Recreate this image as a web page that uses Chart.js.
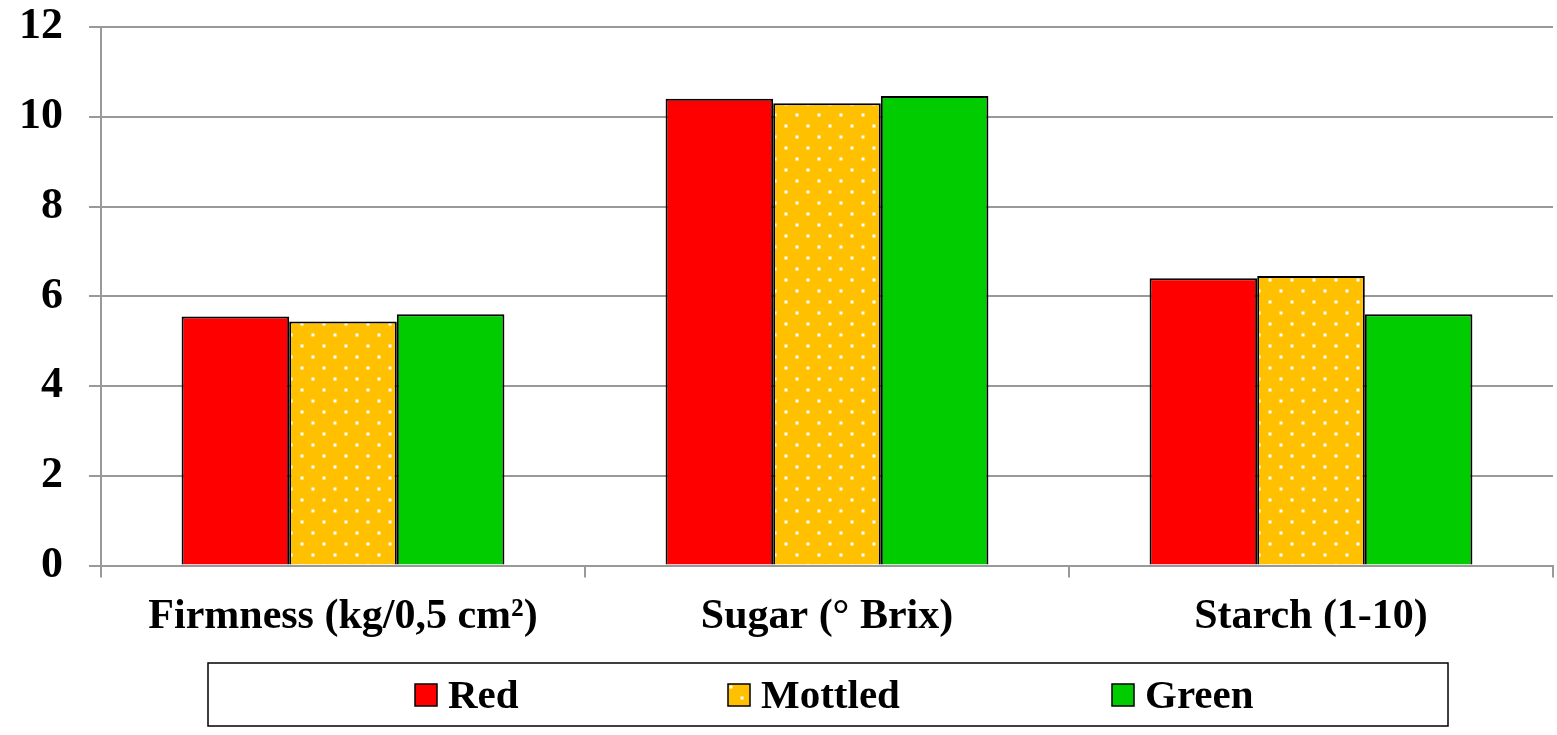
<!DOCTYPE html>
<html>
<head>
<meta charset="utf-8">
<script src="https://cdn.jsdelivr.net/npm/chart.js@4.4.1/dist/chart.umd.min.js"></script>
<style>
  html, body { margin: 0; padding: 0; background: #fff; }
  #wrap { width: 1557px; height: 735px; }
</style>
</head>
<body>
<div id="wrap"><canvas id="qualityChart" width="1557" height="735"></canvas></div>
<script>
// Data
const categories = ['Firmness (kg/0,5 cm²)', 'Sugar (° Brix)', 'Starch (1-10)'];
const seriesNames = ['Red', 'Mottled', 'Green'];
const redValues = [5.55, 10.4, 6.4];
const mottledValues = [5.44, 10.3, 6.45];
const greenValues = [5.6, 10.46, 5.6];
const yTicks = [0, 2, 4, 6, 8, 10, 12];

const FONT = "'Liberation Serif', 'Times New Roman', serif";

// white dotted pattern on orange-yellow
function makeDots() {
    const c = document.createElement('canvas');
    c.width = 22; c.height = 22;
    const g = c.getContext('2d');
    g.fillStyle = '#FFC000';
    g.fillRect(0, 0, 22, 22);
    [[5, 5], [16, 16]].forEach(([x, y]) => {
        g.fillStyle = 'rgba(255,255,255,0.45)';
        g.beginPath();
        g.arc(x, y, 2.2, 0, Math.PI * 2);
        g.fill();
        g.fillStyle = '#fff';
        g.beginPath();
        g.arc(x, y, 1.3, 0, Math.PI * 2);
        g.fill();
    });
    return g.createPattern(c, 'repeat');
}
const dots = makeDots();
const fills = ['#FF0000', dots, '#00CC00'];

// legend drawn by hand inside a framed box
const boxLegend = {
    id: 'boxLegend',
    afterDraw(chart) {
        const ctx = chart.ctx;
        const top = chart.height - 72;
        ctx.save();
        ctx.strokeStyle = '#000';
        ctx.lineWidth = 1.5;
        ctx.strokeRect(208, top, 1240, 63);
        ctx.font = 'bold 41px ' + FONT;
        ctx.textBaseline = 'middle';
        const starts = [415, 728, 1112];
        seriesNames.forEach((name, i) => {
            const x = starts[i];
            const y = top + 32;
            ctx.fillStyle = fills[i];
            ctx.fillRect(x, y - 11, 22, 22);
            ctx.lineWidth = 1.5;
            ctx.strokeRect(x, y - 11, 22, 22);
            ctx.fillStyle = '#000';
            ctx.fillText(name, x + 33, y + 2);
        });
        ctx.restore();
    }
};

const makeSet = (label, data, i) => ({
    label: label,
    data: data,
    backgroundColor: fills[i],
    borderColor: '#000',
    borderWidth: 2,
    categoryPercentage: 0.667,
    barPercentage: 1
});

new Chart(document.getElementById('qualityChart'), {
    type: 'bar',
    data: {
        labels: categories,
        datasets: [
            makeSet(seriesNames[0], redValues, 0),
            makeSet(seriesNames[1], mottledValues, 1),
            makeSet(seriesNames[2], greenValues, 2)
        ]
    },
    options: {
        responsive: false,
        animation: false,
        layout: { padding: { left: 0, right: 4, top: 27, bottom: 79 } },
        plugins: {
            legend: { display: false },
            tooltip: { enabled: false }
        },
        scales: {
            x: {
                grid: {
                    offset: true,
                    drawOnChartArea: false,
                    drawTicks: true,
                    tickLength: 12,
                    color: '#999',
                    lineWidth: 2
                },
                border: { color: '#999', width: 2 },
                ticks: {
                    color: '#000',
                    padding: 14,
                    font: { family: FONT, size: 42, weight: 'bold' }
                }
            },
            y: {
                min: 0,
                max: 12,
                afterBuildTicks: (axis) => { axis.ticks = yTicks.map(v => ({ value: v })); },
                afterFit: (axis) => {
                    axis.width = 101;
                    axis.paddingTop = 0;
                    axis.paddingBottom = 0;
                },
                grid: { color: '#999', lineWidth: 2, tickLength: 12 },
                border: { color: '#999', width: 2 },
                ticks: {
                    color: '#000',
                    padding: 26,
                    font: { family: FONT, size: 44, weight: 'bold' }
                }
            }
        }
    },
    plugins: [boxLegend]
});
</script>
</body>
</html>
